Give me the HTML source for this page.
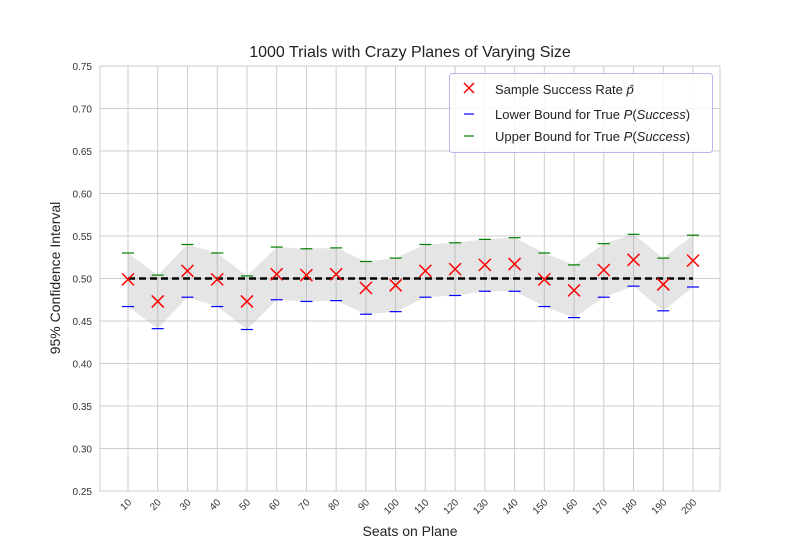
<!DOCTYPE html>
<html><head><meta charset="utf-8"><style>
body{margin:0;background:#fff;}
svg{font-family:"Liberation Sans",Arial,sans-serif;}
</style></head><body>
<svg id="chart" width="800" height="550"></svg>
<script>
const seats=[10,20,30,40,50,60,70,80,90,100,110,120,130,140,150,160,170,180,190,200];
const phat=[0.499,0.473,0.509,0.499,0.473,0.505,0.504,0.505,0.489,0.492,0.509,0.511,0.516,0.517,0.499,0.486,0.510,0.522,0.493,0.521];
const lower=[0.467,0.441,0.478,0.467,0.440,0.475,0.473,0.474,0.458,0.461,0.478,0.480,0.485,0.485,0.467,0.454,0.478,0.491,0.462,0.490];
const upper=[0.530,0.504,0.540,0.530,0.503,0.537,0.535,0.536,0.520,0.524,0.540,0.542,0.546,0.548,0.530,0.516,0.541,0.552,0.524,0.551];
const yTicks=[0.25,0.30,0.35,0.40,0.45,0.50,0.55,0.60,0.65,0.70,0.75];
const refLine=0.5;

const NS="http://www.w3.org/2000/svg";
const svg=document.getElementById('chart');
const L=100,R=720,T=66,B=491;
const y=v=>B-(v-0.25)/(0.5)*(B-T);
const x=i=>128+i*(693-128)/(seats.length-1);
function mk(t,a,p){const e=document.createElementNS(NS,t);for(const k in a)e.setAttribute(k,a[k]);(p||svg).appendChild(e);return e;}

// grid
yTicks.forEach(v=>{
  const g=mk('line',{x1:L,x2:R,y1:y(v),y2:y(v),stroke:'#cccccc','stroke-width':1});
  
  
  const t=mk('text',{x:L-8,y:y(v)+4,'text-anchor':'end','font-size':10,fill:'#333'});
  t.textContent=v.toFixed(2);
  
  
});
seats.forEach((s,i)=>{
  const g=mk('line',{x1:x(i),x2:x(i),y1:T,y2:B,stroke:'#cccccc','stroke-width':1});
  
  
  const t=mk('text',{x:0,y:0,'text-anchor':'end','font-size':10,fill:'#333',transform:`translate(${x(i)+4},${B+12}) rotate(-45)`});
  t.textContent=s;
  
  
});
const frame=mk('rect',{x:L,y:T,width:R-L,height:B-T,fill:'none',stroke:'#cccccc','stroke-width':1});



// band
let pts=seats.map((s,i)=>x(i)+','+y(upper[i]));
for(let i=seats.length-1;i>=0;i--)pts.push(x(i)+','+y(lower[i]));
const band=mk('polygon',{points:pts.join(' '),fill:'#999',opacity:0.25});



// reference line
const rl=mk('line',{x1:x(0),x2:x(seats.length-1),y1:y(refLine),y2:y(refLine),stroke:'#000','stroke-width':2.5,'stroke-dasharray':'7,4'});



seats.forEach((s,i)=>{
  const lo=mk('line',{x1:x(i)-6,x2:x(i)+6,y1:y(lower[i]),y2:y(lower[i]),stroke:'#0000ff','stroke-width':1.2});
  
  
  const up=mk('line',{x1:x(i)-6,x2:x(i)+6,y1:y(upper[i]),y2:y(upper[i]),stroke:'#008000','stroke-width':1.2});
  
  
  const cx=x(i),cy=y(phat[i]);
  const m=mk('path',{d:`M${cx-6},${cy-6}L${cx+6},${cy+6}M${cx-6},${cy+6}L${cx+6},${cy-6}`,stroke:'#ff0000','stroke-width':1.5,fill:'none'});
  
  
});
</script>
<svg width="800" height="550" style="position:absolute;left:0;top:0">
<text x="410" y="57" text-anchor="middle" font-size="16" fill="#222">1000 Trials with Crazy Planes of Varying Size</text>
<text x="410" y="536" text-anchor="middle" font-size="14" fill="#222">Seats on Plane</text>
<text transform="translate(60,278) rotate(-90)" text-anchor="middle" font-size="14" fill="#222">95% Confidence Interval</text>
<g>
<rect x="449.5" y="73.5" width="263" height="79" rx="3" fill="#fff" fill-opacity="0.85" stroke="#b8b8f0"/>
<path d="M464,83L474,93M464,93L474,83" stroke="#f00" stroke-width="1.5"/>
<text x="495" y="94" font-size="13" fill="#222">Sample Success Rate <tspan font-style="italic">p̂</tspan></text>
<line x1="464" x2="474" y1="114" y2="114" stroke="#00f" stroke-width="1.2"/>
<text x="495" y="119" font-size="13" fill="#222">Lower Bound for True <tspan font-style="italic">P</tspan>(<tspan font-style="italic">Success</tspan>)</text>
<line x1="464" x2="474" y1="136" y2="136" stroke="#008000" stroke-width="1.2"/>
<text x="495" y="141" font-size="13" fill="#222">Upper Bound for True <tspan font-style="italic">P</tspan>(<tspan font-style="italic">Success</tspan>)</text>
</g>
</svg>
</body></html>
